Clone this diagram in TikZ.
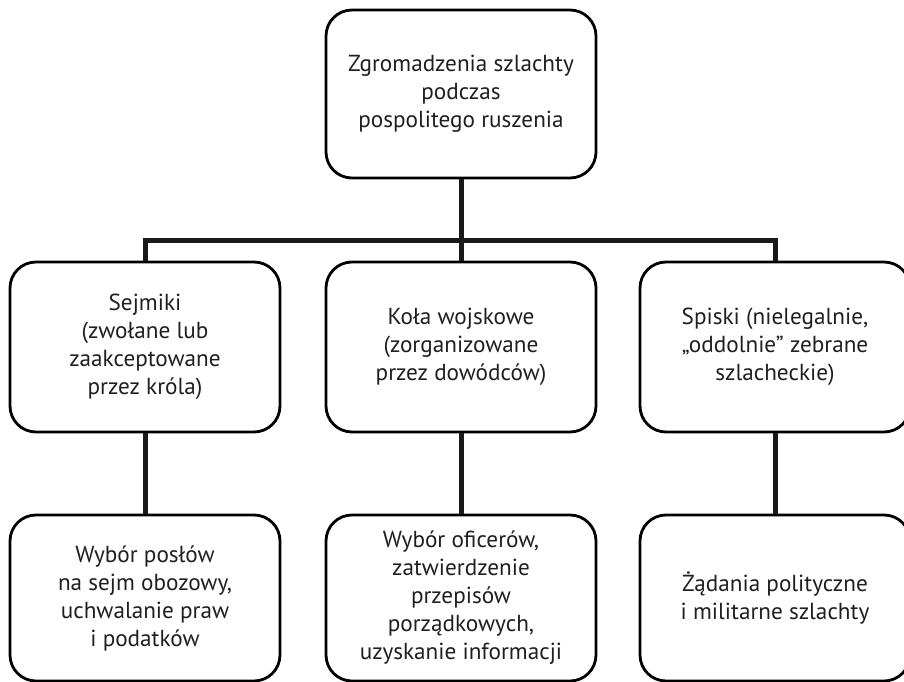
\documentclass[tikz,border=0pt]{standalone}
\usepackage{fontspec}
\setmainfont{PT Sans}
\begin{document}
\begin{tikzpicture}[x=1pt,y=-1pt,
  box/.style={draw=black,line width=2.8pt,rounded corners=26pt,minimum width=270pt,align=center,inner sep=0pt,
    font=\fontsize{23.2}{28}\selectfont,text=black!88},
  conn/.style={line width=5pt,draw=black!90}]
\useasboundingbox (0,0) rectangle (904,682);
\node[box,minimum height=168pt] (top) at (461,94) {Zgromadzenia szlachty\\podczas\\pospolitego ruszenia};
\node[box,minimum height=170pt] (m1) at (145,347) {Sejmiki\\(zwołane lub\\zaakceptowane\\przez króla)};
\node[box,minimum height=170pt] (m2) at (461,347) {Koła wojskowe\\(zorganizowane\\przez dowódców)};
\node[box,minimum height=170pt] (m3) at (775,347) {Spiski (nielegalnie,\\„oddolnie” zebrane\\szlacheckie)};
\node[box,minimum height=166pt] (b1) at (145,598) {Wybór posłów\\na sejm obozowy,\\uchwalanie praw\\i podatków};
\node[box,minimum height=166pt] (b2) at (461,598) {Wybór oficerów,\\zatwierdzenie\\przepisów\\porządkowych,\\uzyskanie informacji};
\node[box,minimum height=166pt] (b3) at (775,598) {Żądania polityczne\\i militarne szlachty};
\coordinate (busL) at (145,240);
\coordinate (busR) at (775,240);
\draw[conn] ([xshift=-2.5pt]busL) -- ([xshift=2.5pt]busR);
\draw[conn] (top.south) -- (m2.north);
\draw[conn] (busL) -- (m1.north);
\draw[conn] (busR) -- (m3.north);
\draw[conn] (m1.south) -- (b1.north);
\draw[conn] (m2.south) -- (b2.north);
\draw[conn] (m3.south) -- (b3.north);
\end{tikzpicture}
\end{document}
